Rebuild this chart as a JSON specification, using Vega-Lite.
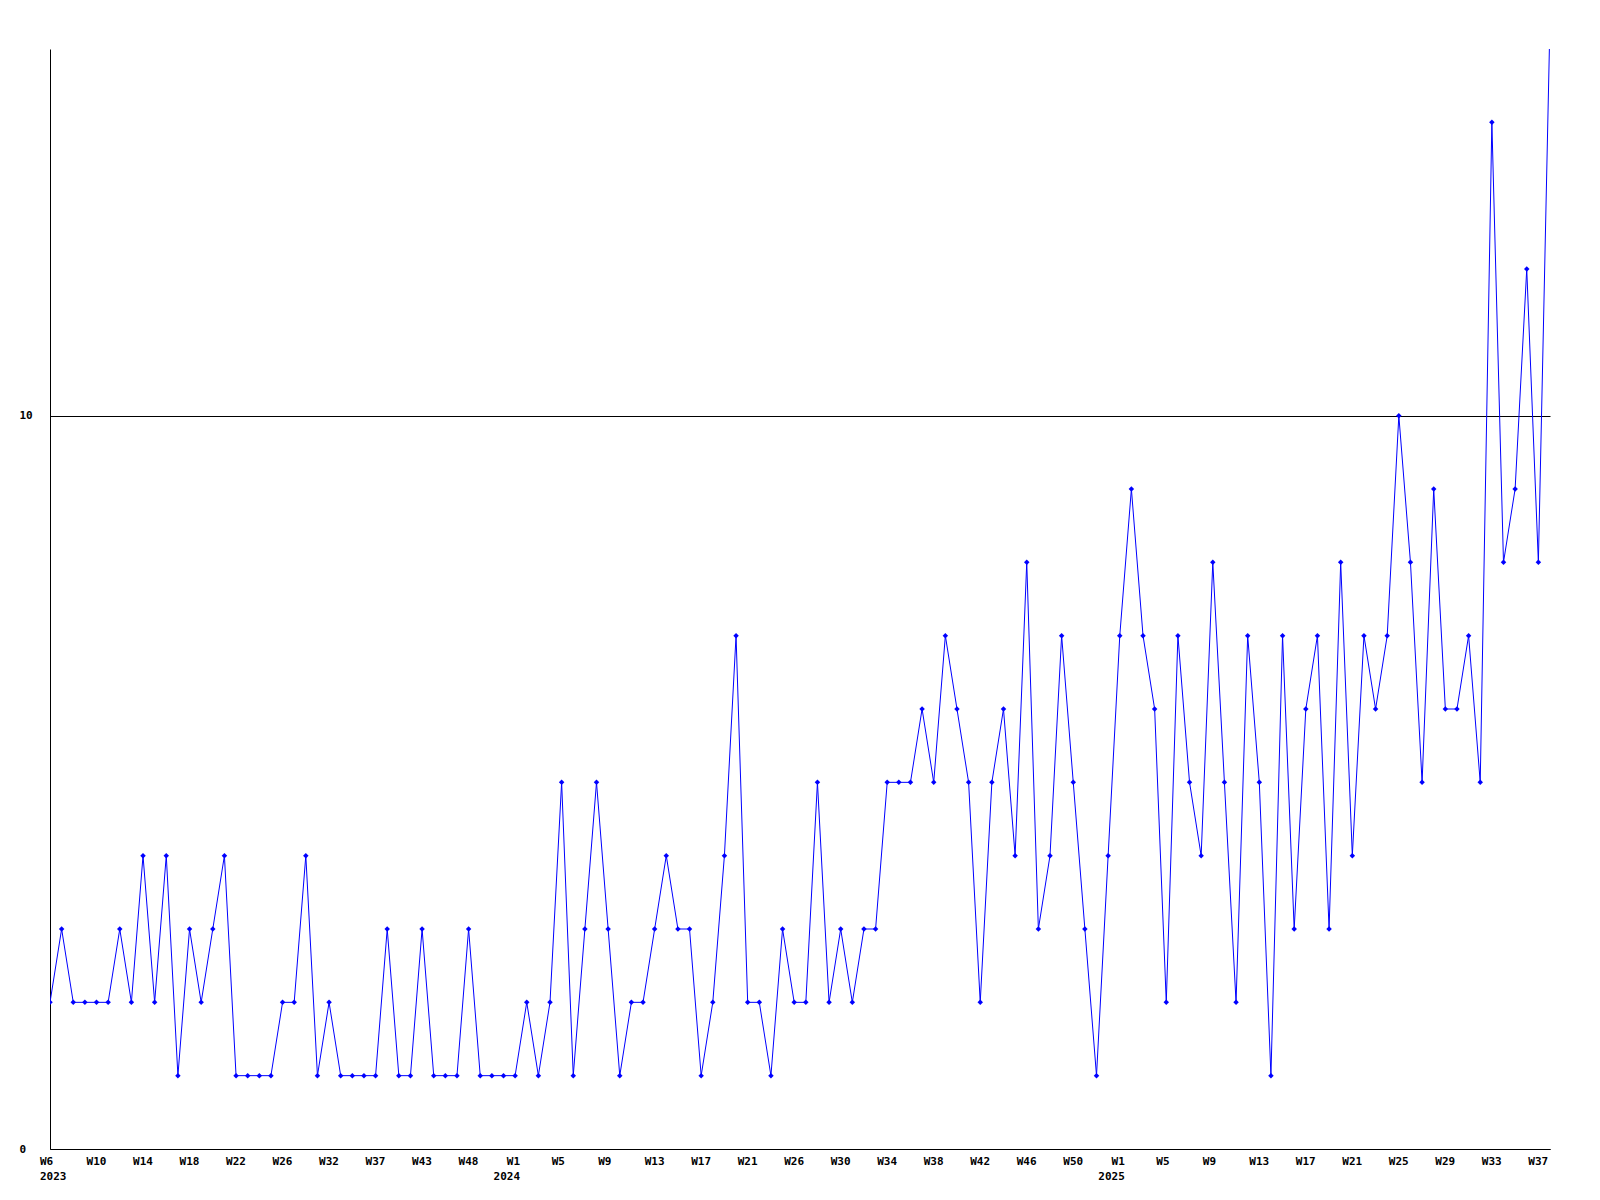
{
  "$schema": "https://vega.github.io/schema/vega-lite/v6.json",
  "autosize": {"type": "none"},
  "padding": {"left": 50, "top": 49, "right": 50, "bottom": 51},
  "width": 1500,
  "height": 1100,
  "background": "white",
  "config": {"view": {"stroke": null}},
  "data": {"values": [
    {"wk": "2023 W6", "v": 2}, {"wk": "2023 W7", "v": 3}, {"wk": "2023 W8", "v": 2}, {"wk": "2023 W9", "v": 2},
    {"wk": "2023 W10", "v": 2}, {"wk": "2023 W11", "v": 2}, {"wk": "2023 W12", "v": 3}, {"wk": "2023 W13", "v": 2},
    {"wk": "2023 W14", "v": 4}, {"wk": "2023 W15", "v": 2}, {"wk": "2023 W16", "v": 4}, {"wk": "2023 W17", "v": 1},
    {"wk": "2023 W18", "v": 3}, {"wk": "2023 W19", "v": 2}, {"wk": "2023 W20", "v": 3}, {"wk": "2023 W21", "v": 4},
    {"wk": "2023 W22", "v": 1}, {"wk": "2023 W23", "v": 1}, {"wk": "2023 W24", "v": 1}, {"wk": "2023 W25", "v": 1},
    {"wk": "2023 W26", "v": 2}, {"wk": "2023 W27", "v": 2}, {"wk": "2023 W28", "v": 4}, {"wk": "2023 W30", "v": 1},
    {"wk": "2023 W32", "v": 2}, {"wk": "2023 W33", "v": 1}, {"wk": "2023 W34", "v": 1}, {"wk": "2023 W36", "v": 1},
    {"wk": "2023 W37", "v": 1}, {"wk": "2023 W38", "v": 3}, {"wk": "2023 W40", "v": 1}, {"wk": "2023 W41", "v": 1},
    {"wk": "2023 W43", "v": 3}, {"wk": "2023 W44", "v": 1}, {"wk": "2023 W45", "v": 1}, {"wk": "2023 W47", "v": 1},
    {"wk": "2023 W48", "v": 3}, {"wk": "2023 W49", "v": 1}, {"wk": "2023 W50", "v": 1}, {"wk": "2023 W52", "v": 1},
    {"wk": "2024 W1", "v": 1}, {"wk": "2024 W2", "v": 2}, {"wk": "2024 W3", "v": 1}, {"wk": "2024 W4", "v": 2},
    {"wk": "2024 W5", "v": 5}, {"wk": "2024 W6", "v": 1}, {"wk": "2024 W7", "v": 3}, {"wk": "2024 W8", "v": 5},
    {"wk": "2024 W9", "v": 3}, {"wk": "2024 W10", "v": 1}, {"wk": "2024 W11", "v": 2}, {"wk": "2024 W12", "v": 2},
    {"wk": "2024 W13", "v": 3}, {"wk": "2024 W14", "v": 4}, {"wk": "2024 W15", "v": 3}, {"wk": "2024 W16", "v": 3},
    {"wk": "2024 W17", "v": 1}, {"wk": "2024 W18", "v": 2}, {"wk": "2024 W19", "v": 4}, {"wk": "2024 W20", "v": 7},
    {"wk": "2024 W21", "v": 2}, {"wk": "2024 W22", "v": 2}, {"wk": "2024 W23", "v": 1}, {"wk": "2024 W25", "v": 3},
    {"wk": "2024 W26", "v": 2}, {"wk": "2024 W27", "v": 2}, {"wk": "2024 W28", "v": 5}, {"wk": "2024 W29", "v": 2},
    {"wk": "2024 W30", "v": 3}, {"wk": "2024 W31", "v": 2}, {"wk": "2024 W32", "v": 3}, {"wk": "2024 W33", "v": 3},
    {"wk": "2024 W34", "v": 5}, {"wk": "2024 W35", "v": 5}, {"wk": "2024 W36", "v": 5}, {"wk": "2024 W37", "v": 6},
    {"wk": "2024 W38", "v": 5}, {"wk": "2024 W39", "v": 7}, {"wk": "2024 W40", "v": 6}, {"wk": "2024 W41", "v": 5},
    {"wk": "2024 W42", "v": 2}, {"wk": "2024 W43", "v": 5}, {"wk": "2024 W44", "v": 6}, {"wk": "2024 W45", "v": 4},
    {"wk": "2024 W46", "v": 8}, {"wk": "2024 W47", "v": 3}, {"wk": "2024 W48", "v": 4}, {"wk": "2024 W49", "v": 7},
    {"wk": "2024 W50", "v": 5}, {"wk": "2024 W51", "v": 3}, {"wk": "2024 W52", "v": 1}, {"wk": "2024 W53", "v": 4},
    {"wk": "2025 W1", "v": 7}, {"wk": "2025 W2", "v": 9}, {"wk": "2025 W3", "v": 7}, {"wk": "2025 W4", "v": 6},
    {"wk": "2025 W5", "v": 2}, {"wk": "2025 W6", "v": 7}, {"wk": "2025 W7", "v": 5}, {"wk": "2025 W8", "v": 4},
    {"wk": "2025 W9", "v": 8}, {"wk": "2025 W10", "v": 5}, {"wk": "2025 W11", "v": 2}, {"wk": "2025 W12", "v": 7},
    {"wk": "2025 W13", "v": 5}, {"wk": "2025 W14", "v": 1}, {"wk": "2025 W15", "v": 7}, {"wk": "2025 W16", "v": 3},
    {"wk": "2025 W17", "v": 6}, {"wk": "2025 W18", "v": 7}, {"wk": "2025 W19", "v": 3}, {"wk": "2025 W20", "v": 8},
    {"wk": "2025 W21", "v": 4}, {"wk": "2025 W22", "v": 7}, {"wk": "2025 W23", "v": 6}, {"wk": "2025 W24", "v": 7},
    {"wk": "2025 W25", "v": 10}, {"wk": "2025 W26", "v": 8}, {"wk": "2025 W27", "v": 5}, {"wk": "2025 W28", "v": 9},
    {"wk": "2025 W29", "v": 6}, {"wk": "2025 W30", "v": 6}, {"wk": "2025 W31", "v": 7}, {"wk": "2025 W32", "v": 5},
    {"wk": "2025 W33", "v": 14}, {"wk": "2025 W34", "v": 8}, {"wk": "2025 W35", "v": 9}, {"wk": "2025 W36", "v": 12},
    {"wk": "2025 W37", "v": 8}, {"wk": "2025 W38", "v": 15.4}
  ]},
  "encoding": {
    "x": {
      "field": "wk", "type": "ordinal", "sort": null,
      "scale": {"type": "point", "padding": 0},
      "axis": {
        "title": null,
        "values": ["2023 W6", "2023 W10", "2023 W14", "2023 W18", "2023 W22", "2023 W26", "2023 W32", "2023 W37", "2023 W43", "2023 W48",
                   "2024 W1", "2024 W5", "2024 W9", "2024 W13", "2024 W17", "2024 W21", "2024 W26", "2024 W30", "2024 W34", "2024 W38", "2024 W42", "2024 W46", "2024 W50",
                   "2025 W1", "2025 W5", "2025 W9", "2025 W13", "2025 W17", "2025 W21", "2025 W25", "2025 W29", "2025 W33", "2025 W37"],
        "labelExpr": "(slice(datum.value,5) == 'W1' || datum.value == '2023 W6') ? [slice(datum.value,5), slice(datum.value,0,4)] : slice(datum.value,5)",
        "labelAngle": 0,
        "labelAlign": {"condition": {"test": "slice(datum.value,5) == 'W1'", "value": "right"}, "value": "left"},
        "labelOffset": {"condition": {"test": "slice(datum.value,5) == 'W1'", "value": 4.5}, "value": -10.5},
        "labelPadding": 6,
        "labelLineHeight": 15,
        "labelOverlap": false,
        "labelFlush": false,
        "labelBound": false,
        "labelFont": "DejaVu Sans Mono",
        "labelFontWeight": "bold",
        "labelFontSize": 11,
        "labelColor": "black",
        "ticks": false,
        "tickSize": 0,
        "grid": false,
        "domainColor": "black",
        "domainWidth": 1
      }
    },
    "y": {
      "field": "v", "type": "quantitative",
      "scale": {"domain": [0, 15], "nice": false, "zero": true},
      "axis": {
        "title": null,
        "values": [0, 10],
        "grid": true,
        "gridColor": "black",
        "gridOpacity": 1,
        "gridWidth": 1,
        "ticks": false,
        "tickSize": 0,
        "labelAlign": "left",
        "labelBaseline": "middle",
        "labelPadding": 31,
        "labelFont": "DejaVu Sans Mono",
        "labelFontWeight": "bold",
        "labelFontSize": 11,
        "labelColor": "black",
        "domainColor": "black",
        "domainWidth": 1
      }
    }
  },
  "layer": [
    {"mark": {"type": "line", "color": "#0000ff", "strokeWidth": 1, "clip": true}},
    {"mark": {"type": "point", "shape": "diamond", "filled": true, "color": "#0000ff", "size": 30, "opacity": 1, "clip": true}}
  ]
}
